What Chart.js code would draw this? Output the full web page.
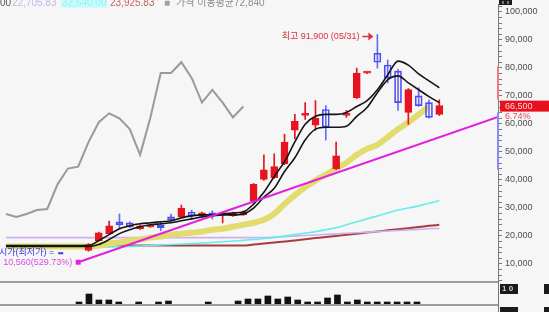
<!DOCTYPE html>
<html>
<head>
<meta charset="utf-8">
<script src="https://cdn.jsdelivr.net/npm/chart.js@4.4.1/dist/chart.umd.min.js"></script>
<style>
    html, body { margin: 0; padding: 0; background: #f6f6f6; overflow: hidden; }
    #wrap { position: relative; width: 549px; height: 312px; }
    #priceChart { position: absolute; left: 0; top: 0; }
    #volumeChart { position: absolute; left: 0; top: 282px; }
</style>
</head>
<body>
<div id="wrap">
    <canvas id="priceChart" width="549" height="312"></canvas>
    <canvas id="volumeChart" width="549" height="30"></canvas>
</div>
<script>
const FONT = "'Liberation Sans', 'Noto Sans CJK KR', sans-serif";

// Candles (day index on the x axis)
const candleDays = [8, 9, 10, 11, 12, 13, 14, 15, 16, 17, 18, 19, 20, 21, 22, 23, 24, 25, 26, 27, 28, 29, 30, 31, 32, 33, 34, 35, 36, 37, 38, 39, 40, 41, 42];
const opens  = [14800, 18300, 20800, 25000, 24600, 22500, 23200, 23900, 26800, 26800, 28500, 27100, 28200, 27500, 27100, 27500, 32400, 40100, 40800, 45800, 57700, 63000, 59500, 65100, 44000, 63000, 69300, 78100, 85200, 81000, 78800, 64100, 70000, 67600, 63400];
const highs  = [17200, 21300, 25300, 27800, 25000, 23900, 24300, 25000, 27800, 31000, 29200, 28500, 28900, 28500, 28500, 28900, 38700, 48900, 49300, 56300, 63400, 67600, 68300, 66500, 53500, 64800, 79900, 78300, 91900, 82800, 79500, 72600, 72900, 68600, 68600];
const lows   = [14500, 18100, 20400, 22500, 22900, 22300, 23000, 21800, 25000, 26500, 26000, 26900, 26000, 24600, 26900, 27300, 32000, 39800, 40500, 45400, 54600, 61600, 57700, 54200, 43600, 62300, 69000, 77900, 79900, 74600, 64800, 59800, 66200, 62000, 63000];
const closes = [16900, 21100, 23600, 23900, 23200, 23600, 23900, 22900, 25700, 29900, 27100, 28200, 27100, 28200, 28200, 28500, 38400, 43600, 44700, 53500, 60900, 63700, 62000, 58800, 48600, 63700, 78100, 78300, 82000, 76400, 67600, 72200, 66500, 62300, 66500];
const highDate = '05/31';

// Moving averages, one value per day 0..42
const maFast = [16550, 16550, 16550, 16550, 16550, 16550, 16550, 16550, 16550, 18310, 20420, 22535, 23590, 24295, 24650, 25000, 25350, 26410, 27110, 27465, 27465, 27815, 28170, 28520, 31340, 35560, 41200, 46480, 53520, 59860, 62675, 63380, 63380, 64080, 66195, 68310, 72180, 77460, 82390, 80980, 77810, 75350, 72885];
const maSlow = [16200, 16200, 16200, 16200, 16200, 16200, 16200, 16200, 16200, 16900, 18660, 20775, 22180, 23240, 23940, 24295, 24650, 25350, 26055, 26760, 27110, 27465, 27465, 27815, 29930, 33800, 36970, 42960, 47885, 54225, 58100, 58800, 58800, 59150, 62675, 65840, 71125, 75700, 77110, 74645, 72180, 69720, 67600];
const ma20 = [16200, 16200, 16200, 16200, 16200, 16200, 16200, 16200, 16200, 16550, 17250, 17600, 18310, 18660, 19365, 19720, 20420, 20775, 21125, 21480, 22180, 22535, 23240, 23940, 24650, 25700, 27815, 31340, 34505, 37320, 39790, 41900, 44010, 46125, 48940, 51055, 52465, 55280, 58100, 60560, 63380, 66195];
const ma60 = [15840, 15840, 15840, 15840, 15840, 15840, 15840, 15840, 15840, 15915, 16020, 16125, 16200, 16370, 16550, 16725, 16900, 17075, 17250, 17430, 17605, 17850, 18135, 18380, 18660, 19015, 19365, 19895, 20420, 20950, 21480, 22180, 22885, 23940, 25000, 26055, 27110, 28170, 29225, 29930, 30700, 31600, 32640];
const ma120 = [19365, 19365, 19365, 19365, 19365, 19365, 19365, 19365, 19365, 19365, 19365, 19365, 19365, 19365, 19365, 19365, 19365, 19365, 19365, 19365, 19365, 19365, 19365, 19365, 19365, 19400, 19550, 19700, 19900, 20100, 20300, 20500, 20700, 20900, 21100, 21300, 21500, 21700, 21900, 22100, 22300, 22500, 22705];
const ma240 = [16550, 16550, 16550, 16550, 16550, 16550, 16550, 16550, 16550, 16550, 16550, 16550, 16550, 16550, 16550, 16550, 16550, 16550, 16550, 16550, 16550, 16550, 16550, 16550, 16900, 17250, 17605, 17955, 18310, 18770, 19190, 19575, 19965, 20350, 20775, 21160, 21550, 21970, 22360, 22745, 23130, 23555, 23925];

// Grey overlay line (own hidden scale)
const greyLine = [36700, 35100, 36700, 38800, 39400, 52700, 61200, 62200, 75500, 86200, 91000, 88300, 82500, 68600, 88800, 112800, 112800, 118600, 110100, 96800, 103700, 96800, 88800, 94700];

// Trend line from the low
const trendDays = [7, 47.69];
const trendValues = [10560, 62440];
const lowValue = 10560;

// Volume bars
const volumeDays = [8, 9, 10, 11, 12, 14, 16, 17, 21, 24, 25, 26, 27, 28, 29, 30, 31, 32, 33, 34, 35, 36, 37, 38, 39, 40, 41, 42];
const volumes = [20000, 100000, 40000, 40000, 20000, 20000, 20000, 30000, 20000, 30000, 50000, 50000, 80000, 50000, 70000, 40000, 20000, 20000, 60000, 90000, 20000, 40000, 20000, 20000, 20000, 20000, 20000, 20000];

// Axis labels
const yLabels = [10000, 20000, 30000, 40000, 50000, 60000, 70000, 80000, 90000, 100000];
const yMinorStep = 2000;

// Marks on the price axis
const axisRangeRed = [68600, 80600];
const axisRangeBlue = [43600, 64000];

// Header strings
const headerParts = [
    { text: '00', color: '#555' },
    { text: '22,705.83', color: '#c9b2f2' },
    { text: '32,640.00', color: '#8ef4f4', bg: '#cffafa' },
    { text: '23,925.83', color: '#c46464' },
    { text: '■', color: '#a0a0a0' },
    { text: '가격 이동평균72,840', color: '#8c8c8c' }
];
const headerX = [0, 12, 62, 110, 164, 176];

const days = maFast.map((_, i) => i);
const toPoints = (xs, ys) => ys.map((v, i) => ({ x: xs[i], y: v }));
const fmt = v => v.toLocaleString('en-US');
const isUp = i => closes[i] >= opens[i];

const RED = '#e6141e';
const BLUE = '#4c4cee';

const overlayPlugin = {
    id: 'overlay',
    afterDraw(chart) {
        const { ctx, chartArea } = chart;
        const x = chart.scales.x, y = chart.scales.y;
        ctx.save();

        // panel bottom line
        ctx.strokeStyle = '#9c9c9c';
        ctx.lineWidth = 2;
        ctx.beginPath();
        ctx.moveTo(0, chartArea.bottom);
        ctx.lineTo(chartArea.right, chartArea.bottom);
        ctx.stroke();

        // colored ranges on the axis
        ctx.lineWidth = 2;
        ctx.strokeStyle = '#f07a82';
        ctx.beginPath();
        ctx.moveTo(chartArea.right, y.getPixelForValue(axisRangeRed[0]));
        ctx.lineTo(chartArea.right, y.getPixelForValue(axisRangeRed[1]));
        ctx.stroke();
        ctx.strokeStyle = '#8a8af4';
        ctx.beginPath();
        ctx.moveTo(chartArea.right, y.getPixelForValue(axisRangeBlue[0]));
        ctx.lineTo(chartArea.right, y.getPixelForValue(axisRangeBlue[1]));
        ctx.stroke();

        // header
        ctx.font = '10px ' + FONT;
        ctx.textBaseline = 'alphabetic';
        ctx.textAlign = 'left';
        headerParts.forEach((p, i) => {
            if (p.bg) {
                ctx.fillStyle = p.bg;
                ctx.fillRect(headerX[i] - 1, 0, ctx.measureText(p.text).width + 2, 8);
            }
            ctx.fillStyle = p.color;
            ctx.fillText(p.text, headerX[i], 6);
        });

        // highest price label with arrow
        const hi = highs.indexOf(Math.max(...highs));
        const hx = x.getPixelForValue(candleDays[hi]);
        const hy = y.getPixelForValue(highs[hi]) + 2;
        ctx.fillStyle = '#e0303c';
        ctx.strokeStyle = '#e0303c';
        ctx.lineWidth = 1.5;
        ctx.beginPath();
        ctx.moveTo(hx - 15, hy);
        ctx.lineTo(hx - 8, hy);
        ctx.stroke();
        ctx.beginPath();
        ctx.moveTo(hx - 4, hy);
        ctx.lineTo(hx - 9, hy - 4);
        ctx.lineTo(hx - 9, hy + 4);
        ctx.closePath();
        ctx.fill();
        ctx.font = '9px ' + FONT;
        ctx.textAlign = 'right';
        ctx.textBaseline = 'middle';
        ctx.fillText('최고 ' + fmt(highs[hi]) + ' (' + highDate + ')', hx - 18, hy);

        // lowest price label
        const lastClose = closes[closes.length - 1];
        const pct = ((lastClose / lowValue - 1) * 100).toFixed(2);
        const lx = x.getPixelForValue(trendDays[0]);
        const ly = y.getPixelForValue(lowValue);
        ctx.fillStyle = '#d94fd9';
        ctx.fillText('최저 ' + fmt(lowValue) + '(' + pct + '%)', lx - 6, ly);
        ctx.fillStyle = '#3a3ae6';
        ctx.fillText('시가(최저가) =', lx - 24, ly - 10);
        ctx.fillRect(lx - 20, ly - 10, 5, 2);

        // last price tag
        const prevClose = closes[closes.length - 2];
        const ty = y.getPixelForValue(lastClose);
        ctx.fillStyle = '#e8101c';
        ctx.fillRect(chartArea.right + 2, ty - 5, 549 - chartArea.right - 2, 11);
        ctx.fillStyle = '#ffd8dc';
        ctx.textAlign = 'left';
        ctx.font = '9px ' + FONT;
        ctx.fillText(fmt(lastClose), chartArea.right + 7, ty + 1);
        ctx.fillStyle = '#e84858';
        ctx.fillText(((lastClose / prevClose - 1) * 100).toFixed(2) + '%', chartArea.right + 7, ty + 11);

        // small black block at the top of the axis
        ctx.fillStyle = '#1a1a1a';
        ctx.fillRect(chartArea.right + 1, 0, 13, 5);
        ctx.fillStyle = '#777';
        ctx.fillRect(chartArea.right + 4, 1, 2, 3);
        ctx.fillRect(chartArea.right + 9, 1, 2, 3);
        ctx.restore();
    }
};

const volumePlugin = {
    id: 'volumeFrame',
    afterDraw(chart) {
        const { ctx, chartArea } = chart;
        ctx.save();
        ctx.strokeStyle = '#9c9c9c';
        ctx.lineWidth = 2;
        ctx.beginPath();
        ctx.moveTo(0, chartArea.bottom + 1);
        ctx.lineTo(chartArea.right, chartArea.bottom + 1);
        ctx.stroke();
        ctx.strokeStyle = '#777';
        ctx.lineWidth = 1;
        ctx.beginPath();
        ctx.moveTo(chartArea.right + 0.5, 0);
        ctx.lineTo(chartArea.right + 0.5, 30);
        ctx.stroke();
        // toolbar blocks
        ctx.fillStyle = '#1a1a1a';
        ctx.fillRect(chartArea.right + 2, 2, 18, 10);
        ctx.fillRect(544, 2, 5, 10);
        ctx.fillRect(chartArea.right + 2, 25, 18, 5);
        ctx.fillRect(544, 25, 5, 5);
        ctx.fillStyle = '#cfcfcf';
        ctx.font = 'bold 8px ' + FONT;
        ctx.textBaseline = 'middle';
        ctx.fillText('1 0', chartArea.right + 4, 7);
        ctx.restore();
    }
};

document.addEventListener("DOMContentLoaded", function () {
    const lineSet = (label, values, color, width, order, extra) => Object.assign({
        type: 'line',
        label: label,
        data: toPoints(days, values),
        borderColor: color,
        borderWidth: width,
        pointRadius: 0,
        cubicInterpolationMode: 'monotone',
        order: order
    }, extra || {});

    const priceChart = new Chart(document.getElementById("priceChart"), {
        type: 'bar',
        data: {
            datasets: [
                {
                    type: 'line',
                    label: 'trend',
                    data: toPoints(trendDays, trendValues),
                    borderColor: '#e020e0',
                    borderWidth: 2,
                    pointRadius: [3.5, 0],
                    pointStyle: 'rect',
                    pointBackgroundColor: '#e020e0',
                    pointBorderWidth: 0,
                    order: 0
                },
                lineSet('ma5', maFast, '#141414', 1.6, 1),
                lineSet('ma10', maSlow, '#141414', 1.6, 1),
                {
                    label: 'body',
                    data: candleDays.map((d, i) => ({ x: d, y: [opens[i], closes[i]] })),
                    backgroundColor: candleDays.map((d, i) => isUp(i) ? RED : 'rgba(0,0,0,0)'),
                    borderColor: candleDays.map((d, i) => isUp(i) ? RED : BLUE),
                    borderWidth: 1,
                    borderSkipped: false,
                    barThickness: 7,
                    minBarLength: 2,
                    grouped: false,
                    order: 2
                },
                {
                    label: 'wick',
                    data: candleDays.map((d, i) => ({ x: d, y: [lows[i], highs[i]] })),
                    backgroundColor: candleDays.map((d, i) => isUp(i) ? RED : '#6a6af2'),
                    borderWidth: 0,
                    barThickness: 1,
                    grouped: false,
                    order: 3
                },
                lineSet('ma20', ma20, '#e2dc6e', 6, 4),
                lineSet('ma60', ma60, '#66ecec', 1.6, 5),
                lineSet('ma120', ma120, '#cdb0f0', 1.6, 5),
                lineSet('ma240', ma240, '#a83c3c', 2, 5),
                {
                    type: 'line',
                    label: 'grey',
                    data: toPoints(days, greyLine),
                    borderColor: '#9a9a9a',
                    borderWidth: 2,
                    pointRadius: 0,
                    tension: 0,
                    yAxisID: 'yg',
                    order: 6
                }
            ]
        },
        options: {
            responsive: false,
            animation: false,
            layout: { padding: { left: 0, right: 0, top: 0, bottom: 30 } },
            plugins: { legend: { display: false }, tooltip: { enabled: false } },
            scales: {
                x: { type: 'linear', min: -0.19, max: 47.69, offset: false, display: false },
                y: {
                    position: 'right',
                    min: 3500,
                    max: 102800,
                    afterFit: function (scale) {
                        scale.width = 51;
                        scale.paddingTop = 0;
                        scale.paddingBottom = 0;
                    },
                    afterBuildTicks: function (scale) {
                        const ticks = [];
                        for (let v = yMinorStep * 2; v <= scale.max; v += yMinorStep) ticks.push({ value: v });
                        scale.ticks = ticks;
                    },
                    ticks: {
                        autoSkip: false,
                        padding: 3,
                        color: '#4d4d4d',
                        font: { family: FONT, size: 9 },
                        callback: v => yLabels.includes(v) ? fmt(v) : ''
                    },
                    grid: { drawOnChartArea: false, tickLength: 4, tickColor: '#7a7a7a' },
                    border: { color: '#7a7a7a', width: 1 }
                },
                yg: { display: false, min: 0, max: 150000 }
            }
        },
        plugins: [overlayPlugin]
    });

    const volumeChart = new Chart(document.getElementById("volumeChart"), {
        type: 'bar',
        data: {
            datasets: [{
                label: 'volume',
                data: toPoints(volumeDays, volumes),
                backgroundColor: '#111',
                barThickness: 6,
                grouped: false
            }]
        },
        options: {
            responsive: false,
            animation: false,
            layout: { padding: { left: 0, right: 51, top: 2, bottom: 8 } },
            plugins: { legend: { display: false }, tooltip: { enabled: false } },
            scales: {
                x: { type: 'linear', min: 0.05, max: 50.15, offset: false, display: false },
                y: { min: 0, max: 200000, display: false }
            }
        },
        plugins: [volumePlugin]
    });
});
</script>
</body>
</html>
